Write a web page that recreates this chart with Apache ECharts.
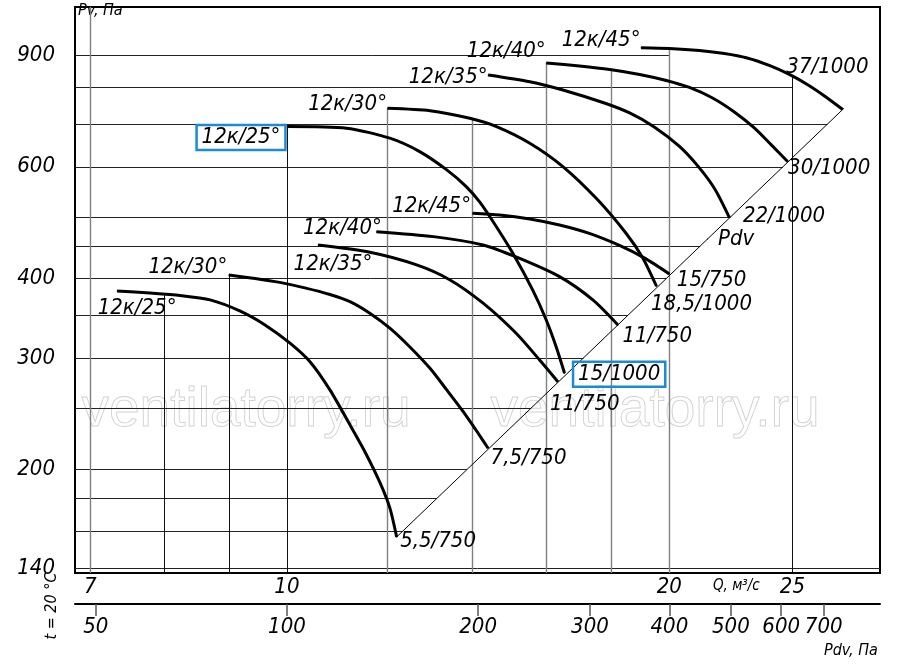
<!DOCTYPE html>
<html><head><meta charset="utf-8">
<script src="https://cdn.jsdelivr.net/npm/echarts@6/dist/echarts.min.js"></script>
<style>html,body{margin:0;padding:0;background:#fff}#c{width:900px;height:669px}</style>
</head><body><div id="c"></div>
<script>
// ---- axes ----
const qRange = [6.81, 29.3];          // Q, m3/s (log axis)
const pvRange = [137.5, 1071];        // Pv, Pa (log axis)
const qTicks = [7, 10, 20, 25];
const pvTicks = [140, 200, 300, 400, 600, 900];
const pdvTicks = [50, 100, 200, 300, 400, 500, 600, 700];
const qGrid = [7, 8, 9, 10, 12, 14, 16, 18, 20, 25];
const qGridDark = [8, 9, 10, 25];
const pvGrid = [900, 800, 700, 600, 500, 450, 400, 350, 300, 250, 200, 180, 160, 140];

// ---- curves [Q, Pv] ----
const curveL25 = [[7.35,382.5],[7.80,379.5],[8.24,376.1],[8.70,370.2],[9.18,355.7],[9.61,338.1],[10.05,316.7],[10.43,295.6],[10.81,267.1],[11.21,235.3],[11.52,213.3],[11.83,191.3],[12.05,174.1],[12.2,156.7]];
const curveL30 = [[9.0,405.3],[9.44,400.2],[9.87,394.5],[10.33,386.7],[10.81,377.5],[11.21,367.8],[11.62,352.7],[12.05,334.1],[12.49,312.4],[12.96,288.9],[13.36,267.1],[13.76,247.1],[14.1,230.3],[14.4,216.2]];
const curveL35 = [[10.58,451.9],[11.55,441.1],[12.65,420.3],[13.44,398.0],[14.27,365.8],[15.15,328.0],[15.81,297.7],[16.34,275.2]];
const curveL40 = [[11.76,474.2],[13.04,465.7],[14.27,451.9],[15.15,432.6],[16.39,402.8],[17.41,370.2],[18.22,338.1]];
const curveL45 = [[14.0,507.0],[14.7,503.8],[15.53,496.5],[16.39,485.8],[17.3,471.2],[18.27,451.1],[19.11,431.1],[20.0,406.8]];
const curveU25 = [[10.0,694.1],[11.14,690.1],[12.05,665.5],[12.72,633.9],[13.36,593.3],[13.84,558.4],[14.18,528.1],[14.57,487.6],[15.06,438.5],[15.61,383.9],[16.0,344.2],[16.29,312.4],[16.54,283.8]];
const curveU30 = [[12.0,741.9],[12.96,735.4],[13.93,715.4],[14.62,694.1],[15.53,653.5],[16.49,600.4],[17.57,531.8],[18.49,471.4],[19.06,431.1],[19.54,389.0]];
const curveU35 = [[14.4,837.1],[15.53,816.9],[16.49,792.7],[17.78,756.0],[18.61,729.3],[19.46,693.3],[20.37,646.0],[21.12,597.6],[21.74,551.7],[22.3,499.1]];
const curveU40 = [[16.0,874.3],[16.99,864.8],[17.95,853.9],[18.95,838.6],[19.89,820.6],[20.74,800.0],[21.63,770.0],[22.5,732.0],[23.33,690.8],[24.06,649.5],[24.78,611.4]];
const curveU45 = [[19.0,924.1],[20.0,921.5],[21.12,914.8],[22.1,904.9],[23.03,890.3],[23.97,866.4],[24.86,838.6],[25.68,808.6],[26.53,774.3],[27.37,739.2]];
const diagonal = [[12.2,156.7],[27.45,742]];

const curveNames = ['12к/25°','12к/30°','12к/35°','12к/40°','12к/45°','12к/25°','12к/30°','12к/35°','12к/40°','12к/45°'];
const motorLabels = ['5,5/750','7,5/750','11/750','11/750','15/750','15/1000','18,5/1000','22/1000','30/1000','37/1000'];
const curves = [curveL25, curveL30, curveL35, curveL40, curveL45, curveU25, curveU30, curveU35, curveU40, curveU45];
const pdvText = 'Pdv';

// ---- label placement (style only) ----
const BLUE = '#1b8bd6';
const startPlace = [
  {position:'bottom', distance:6, offset:[20,0]},
  {position:'left', distance:1, offset:[0,-8]},
  {position:'bottom', distance:8, offset:[15,0]},
  {position:'left', distance:0, offset:[6,-3]},
  {position:'left', distance:1, offset:[0,-7]},
  {position:'left', distance:1, offset:[0,11], box:true},
  {position:'left', distance:0, offset:[0,-4]},
  {position:'left', distance:0, offset:[0,2]},
  {position:'left', distance:0, offset:[0,-12]},
  {position:'left', distance:0, offset:[0,-7]}
];
const endPlace = [
  {position:'right', distance:3, offset:[0,4]},
  {position:'right', distance:2, offset:[0,10]},
  {position:'bottom', distance:11, offset:[27,0]},
  {position:'right', distance:4, offset:[0,11]},
  {position:'right', distance:7, offset:[0,6]},
  {position:'right', distance:8, offset:[0,1], box:true},
  {position:'bottom', distance:7, offset:[45,0]},
  {position:'right', distance:13, offset:[0,-1]},
  {position:'right', distance:0, offset:[0,7]},
  {position:'top', distance:30, offset:[-15,0]}
];

const FONT = '"DejaVu Sans Condensed","Liberation Sans Narrow","DejaVu Sans",sans-serif';
const LBL = 22;

// ---- helpers ----
const L = Math.log10;
function interp(curve, q) {
  const eps = 1e-9;
  if (q < curve[0][0] - eps || q > curve[curve.length-1][0] + eps) return null;
  for (let i = 0; i < curve.length - 1; i++) {
    const a = curve[i], b = curve[i+1];
    if (q >= a[0] - eps && q <= b[0] + eps) {
      const t = (L(q) - L(a[0])) / (L(b[0]) - L(a[0]));
      return Math.pow(10, L(a[1]) + t * (L(b[1]) - L(a[1])));
    }
  }
  return curve[curve.length-1][1];
}
function diagQ(p) {
  const [a, b] = diagonal;
  const t = (L(p) - L(a[1])) / (L(b[1]) - L(a[1]));
  return Math.pow(10, L(a[0]) + t * (L(b[0]) - L(a[0])));
}
function hEnd(p) {
  if (p < diagonal[0][1]) return qRange[1];
  if (p <= diagonal[1][1]) return diagQ(p);
  let best = qRange[0];
  qGrid.forEach(q => { const v = interp(curveU45, q); if (v !== null && v >= p) best = q; });
  return best;
}
function vTop(q) {
  let top = null;
  curves.forEach(c => { const v = interp(c, q); if (v !== null && (top === null || v > top)) top = v; });
  return top === null ? pvRange[1] : top;
}

const hLines = pvGrid.map(p => ({coords: [[qRange[0], p], [hEnd(p), p]]}));
const vLinesGray = qGrid.filter(q => qGridDark.indexOf(q) < 0).map(q => ({coords: [[q, pvRange[0]], [q, vTop(q)]]}));
const vLinesDark = qGrid.filter(q => qGridDark.indexOf(q) >= 0).map(q => ({coords: [[q, pvRange[0]], [q, vTop(q)]]}));

function lbl(text, place) {
  const o = {show:true, formatter:text, position:place.position, distance:place.distance, offset:place.offset,
    color:'#000', opacity:1, fontSize:LBL, fontStyle:'italic', fontFamily:FONT};
  if (place.box) { o.borderColor = BLUE; o.borderWidth = 2.5; o.padding = [2,5,1,5]; }
  return o;
}
const labelData = [];
curves.forEach((c, i) => {
  labelData.push({value: c[0], label: lbl(curveNames[i], startPlace[i])});
  labelData.push({value: c[c.length-1], label: lbl(motorLabels[i], endPlace[i])});
});
// Pdv caption anchored on a point of the diagonal
(function(){
  const f = 0.695, a = diagonal[0], b = diagonal[1];
  const q = Math.pow(10, L(a[0]) + f*(L(b[0])-L(a[0])));
  const p = Math.pow(10, L(a[1]) + f*(L(b[1])-L(a[1])));
  labelData.push({value:[q,p], label: lbl(pdvText, {position:'right', distance:10, offset:[0,0]})});
})();

const series = [
  {type:'lines', coordinateSystem:'cartesian2d', silent:true, z:1, data:hLines,
   lineStyle:{color:'#222', width:1, opacity:1}},
  {type:'lines', coordinateSystem:'cartesian2d', silent:true, z:1, data:vLinesGray,
   lineStyle:{color:'#808080', width:1.4, opacity:1}},
  {type:'lines', coordinateSystem:'cartesian2d', silent:true, z:1, data:vLinesDark,
   lineStyle:{color:'#111', width:1, opacity:1}},
  {type:'line', data:diagonal, symbol:'none', silent:true, z:2,
   lineStyle:{color:'#000', width:1}}
];
curves.forEach(c => series.push({type:'line', data:c, symbol:'none', smooth:0.25, silent:true, z:3,
  lineStyle:{color:'#000', width:3}}));
series.push({type:'scatter', data:labelData, symbol:'circle', symbolSize:1, silent:true, z:5,
  itemStyle:{color:'#000', opacity:1}});

const chart = echarts.init(document.getElementById('c'), null, {renderer:'canvas'});
const axisLbl = {color:'#000', fontSize:22, fontStyle:'italic', fontFamily:FONT};
chart.setOption({
  animation:false,
  backgroundColor:'#fff',
  grid:{left:75, right:20, top:7, bottom:96, show:true, borderColor:'#000', borderWidth:2,
        backgroundColor:'transparent', containLabel:false, outerBoundsMode:'none'},
  xAxis:[
    {type:'log', logBase:10, min:qRange[0], max:qRange[1], position:'bottom',
     axisLine:{show:true, onZero:false, lineStyle:{color:'#000', width:2}},
     axisTick:{show:false}, minorTick:{show:false}, splitLine:{show:false},
     axisLabel:Object.assign({customValues:qTicks, margin:3, formatter:v=>String(Math.round(v))}, axisLbl)},
    {type:'log', logBase:10, min:qRange[0]*qRange[0], max:qRange[1]*qRange[1], position:'bottom', offset:31,
     axisLine:{show:true, onZero:false, lineStyle:{color:'#000', width:2}},
     axisTick:{show:true, customValues:pdvTicks, length:12, lineStyle:{color:'#555', width:1.5}},
     minorTick:{show:false}, splitLine:{show:false},
     axisLabel:Object.assign({customValues:pdvTicks, margin:12, formatter:v=>String(Math.round(v))}, axisLbl)}
  ],
  yAxis:{type:'log', logBase:10, min:pvRange[0], max:pvRange[1],
     axisLine:{show:false}, axisTick:{show:false}, minorTick:{show:false}, splitLine:{show:false},
     axisLabel:Object.assign({customValues:pvTicks, margin:20, padding:[0,0,9,0], formatter:v=>String(Math.round(v))}, axisLbl)},
  graphic:{elements:[
    {type:'text', x:246, y:411, z:-1, silent:true, style:{text:'ventilatorry.ru', fill:'none', stroke:'#d2d2d2', lineWidth:0.9,
      fontSize:55, fontFamily:'"Liberation Sans",sans-serif', align:'center', verticalAlign:'middle'}},
    {type:'text', x:655, y:411, z:-1, silent:true, style:{text:'ventilatorry.ru', fill:'none', stroke:'#d2d2d2', lineWidth:0.9,
      fontSize:55, fontFamily:'"Liberation Sans",sans-serif', align:'center', verticalAlign:'middle'}},
    {type:'text', x:78, y:3, style:{text:'Pv, Па', fill:'#000', fontSize:16, fontStyle:'italic', fontFamily:FONT}},
    {type:'text', x:713, y:579, style:{text:'Q, м³/с', fill:'#000', fontSize:15, fontStyle:'italic', fontFamily:FONT}},
    {type:'text', x:824, y:643, style:{text:'Pdv, Па', fill:'#000', fontSize:16, fontStyle:'italic', fontFamily:FONT}},
    {type:'text', x:52, y:606, rotation:Math.PI/2, style:{text:'t = 20 °C', fill:'#000', fontSize:16, fontStyle:'italic',
      fontFamily:FONT, align:'center', verticalAlign:'middle'}}
  ]},
  series: series
});
</script></body></html>
